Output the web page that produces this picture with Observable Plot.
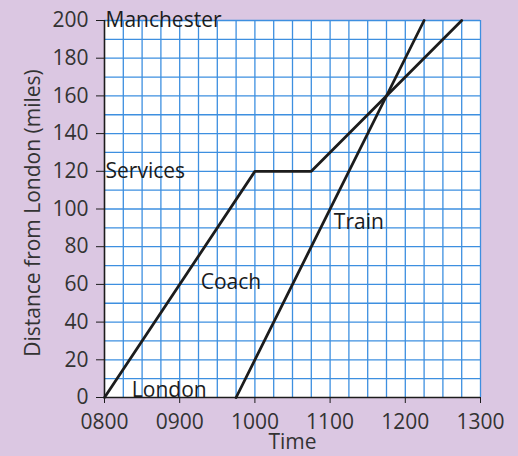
<!DOCTYPE html>
<html>
<head>
<meta charset="utf-8">
<script src="https://cdn.jsdelivr.net/npm/d3@7"></script>
<script src="https://cdn.jsdelivr.net/npm/@observablehq/plot@0.6"></script>
<style>
  html, body { margin: 0; padding: 0; background: #dbc7e2; }
  #chart svg { display: block; }
</style>
</head>
<body>
<div id="chart"></div>
<script>
// Times in hours (8 = 0800), distances in miles from London
const coachTimes = [8, 10, 10.75, 12.75];
const coachMiles = [0, 120, 120, 200];
const trainTimes = [9.75, 12.25];
const trainMiles = [0, 200];

const xTicks = [8, 9, 10, 11, 12, 13];
const xTickLabels = ["0800", "0900", "1000", "1100", "1200", "1300"];
const yTicks = [0, 20, 40, 60, 80, 100, 120, 140, 160, 180, 200];

const placeNames = ["Manchester", "Services", "London"];
const placeTimes = [8.0, 8.0, 8.35];
const placeMiles = [200, 120, 4];

const lineNames = ["Coach", "Train"];
const lineNameTimes = [9.28, 11.05];
const lineNameMiles = [61, 93];

const coach = coachTimes.map((t, i) => ({t, m: coachMiles[i]}));
const train = trainTimes.map((t, i) => ({t, m: trainMiles[i]}));
const places = placeNames.map((name, i) => ({name, t: placeTimes[i], m: placeMiles[i]}));
const lineLabels = lineNames.map((name, i) => ({name, t: lineNameTimes[i], m: lineNameMiles[i]}));

const gridX = d3.range(8.25, 13.001, 0.25);
const gridY = d3.range(10, 200.001, 10);

const blue = "#3d8fe0";
const ink = "#1c1c1c";
const textInk = "#333";
const fs = 21;

const chart = Plot.plot({
  width: 518,
  height: 456,
  marginLeft: 104,
  marginRight: 38,
  marginTop: 20,
  marginBottom: 59,
  style: { background: "transparent", fontFamily: "'Open Sans', sans-serif", fontSize: fs + "px", color: textInk },
  x: { domain: [8, 13] },
  y: { domain: [0, 200] },
  marks: [
    Plot.frame({ fill: "white", stroke: "none" }),
    Plot.ruleX(gridX, { stroke: blue, strokeWidth: 1.3 }),
    Plot.ruleY(gridY, { stroke: blue, strokeWidth: 1.3 }),
    Plot.ruleY([0], { stroke: ink, strokeWidth: 1.6 }),
    Plot.ruleX([8], { stroke: ink, strokeWidth: 1.6 }),
    Plot.axisX({
      ticks: xTicks,
      tickFormat: (d) => xTickLabels[xTicks.indexOf(d)],
      tickSize: 6,
      tickPadding: 11,
      label: null,
      fontSize: fs,
      stroke: ink
    }),
    Plot.axisY({
      ticks: yTicks,
      tickSize: 8,
      tickPadding: 8,
      label: null,
      fontSize: fs,
      stroke: ink
    }),
    Plot.text(["Time"], { frameAnchor: "bottom", dy: 51, fontSize: fs, fill: textInk }),
    Plot.text(["Distance from London (miles)"], {
      frameAnchor: "left", textAnchor: "middle", dx: -71, dy: 4, rotate: -90, fontSize: fs, fill: textInk
    }),
    Plot.line(coach, { x: "t", y: "m", stroke: ink, strokeWidth: 2.8 }),
    Plot.line(train, { x: "t", y: "m", stroke: ink, strokeWidth: 2.8 }),
    Plot.text(places, { x: "t", y: "m", text: "name", textAnchor: "start", dx: 1, fontSize: fs, fill: ink }),
    Plot.text(lineLabels, { x: "t", y: "m", text: "name", textAnchor: "start", fontSize: fs, fill: ink })
  ]
});
document.getElementById("chart").append(chart);
</script>
</body>
</html>
